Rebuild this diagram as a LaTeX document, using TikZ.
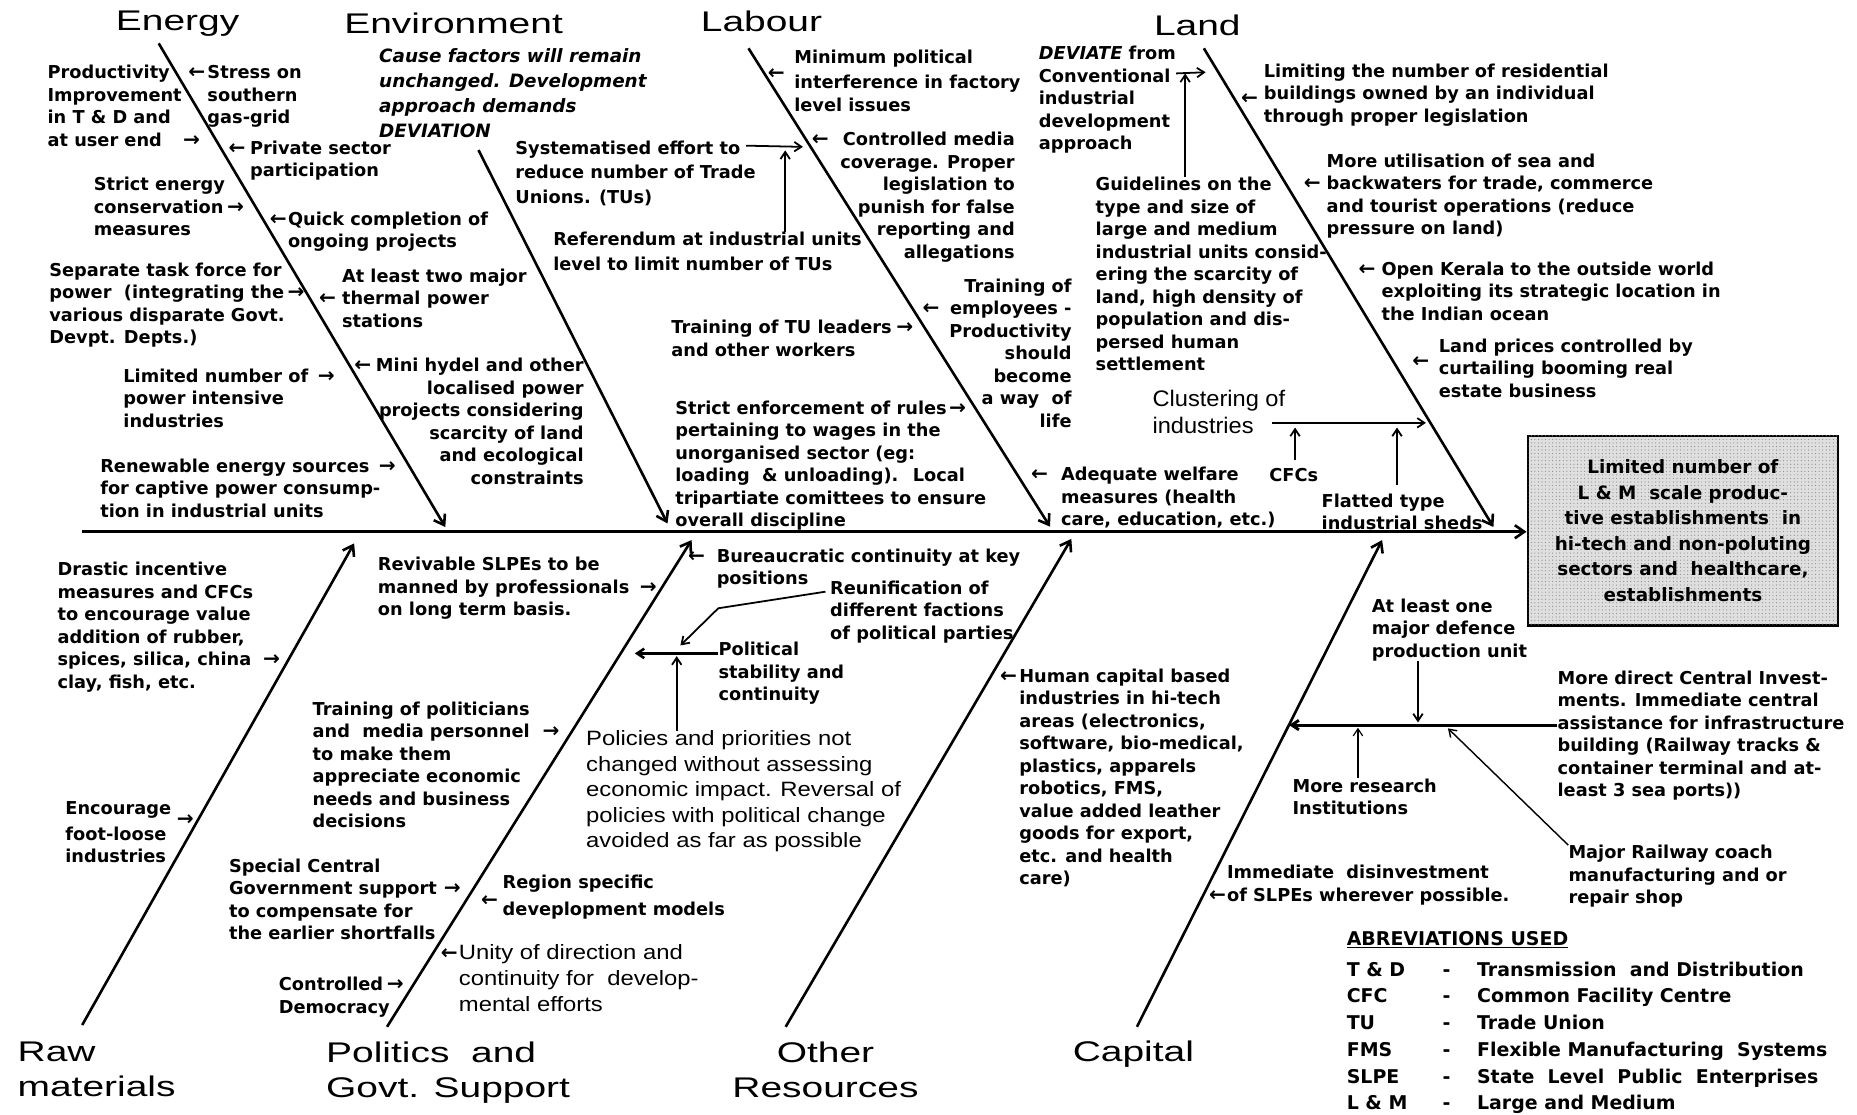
\documentclass[tikz,border=0pt]{standalone}
\usepackage{fontspec}
\setmainfont{DejaVu Sans}
\newfontfamily\headfam{Liberation Sans}[FakeStretch=1.37]
\newfontfamily\plainfam{Liberation Sans}[FakeStretch=1.15]
\newfontfamily\clusterfam{Liberation Sans}[FakeStretch=1.05]
\newfontfamily\arrowfam{DejaVu Sans}
\usetikzlibrary{positioning,arrows.meta,patterns}

% small pointer arrows set inside the texts
\newcommand\arrowglyph[1]{{\arrowfam\bfseries\fontsize{17}{17}\selectfont\symbol{#1}}}
\newcommand\ra[1][3pt]{\rlap{\hspace{#1}\arrowglyph{"2192}}}
\newcommand\rar[2][3pt]{\rlap{\hspace{#1}\raisebox{#2}{\arrowglyph{"2192}}}}
\newcommand\la[1][3pt]{\llap{\arrowglyph{"2190}\hspace{#1}}}
\newcommand\lar[2][3pt]{\llap{\raisebox{#2}{\arrowglyph{"2190}}\hspace{#1}}}

\begin{document}
\begin{tikzpicture}[x=1pt,y=-1pt,
  cause/.style={inner sep=0pt, anchor=north west, align=left,
    font=\fontsize{15}{19}\selectfont\bfseries},
  causer/.style={cause, anchor=north east, align=right},
  plain/.style={inner sep=0pt, anchor=north west, align=left,
    font=\plainfam\fontsize{17.5}{21.5}\selectfont},
  head/.style={inner sep=0pt, anchor=base, font=\headfam\fontsize{24}{29.6}\selectfont},
  bone/.style={line width=2.2pt, -{Straight Barb[length=8pt,width=11pt]}},
  link/.style={line width=1.5pt, -{Straight Barb[length=6pt,width=8pt]}}]

\fill[white] (0,0) rectangle (1568,941);
\useasboundingbox (0,0) rectangle (1568,941);

% effect and spine
\node[draw, line width=2pt, fill=gray!25, postaction={pattern=dots, pattern color=gray!90},
  minimum width=262pt, minimum height=160pt, inner sep=0pt, align=center,
  font=\fontsize{15.5}{21.5}\selectfont\bfseries] (effect) at (1421,448)
  {Limited number of\\L \& M \ scale produc-\\tive establishments \ in\\hi-tech and non-poluting\\sectors and \ healthcare,\\establishments};
\coordinate (tail) at (69,449);
\draw[bone] (tail) -- (tail -| effect.west);

% bones
\coordinate (energy0) at (134,36.6);    \coordinate (energy1) at (376,445);
\coordinate (environ0) at (404,126.7);  \coordinate (environ1) at (563.6,442);
\coordinate (labour0) at (632,40.8);    \coordinate (labour1) at (886.6,444.7);
\coordinate (land0) at (1016.5,40.8);   \coordinate (land1) at (1261,445);
\coordinate (raw0) at (69.4,865.5);     \coordinate (raw1) at (299,458.8);
\coordinate (politics0) at (326.8,867); \coordinate (politics1) at (584,456);
\coordinate (other0) at (663.4,867);    \coordinate (other1) at (904.6,455);
\coordinate (capital0) at (960,867);    \coordinate (capital1) at (1167,456);
\draw[bone] (energy0) -- (energy1);
\draw[bone] (environ0) -- (environ1);
\draw[bone] (labour0) -- (labour1);
\draw[bone] (land0) -- (land1);
\draw[bone] (raw0) -- (raw1);
\draw[bone] (politics0) -- (politics1);
\draw[bone] (other0) -- (other1);
\draw[bone] (capital0) -- (capital1);

% bone titles
\node[head] (energy) at (150,26) {Energy};
\node[head] (environment) at (383,28) {Environment};
\node[head] (labour) at (643,27) {Labour};
\node[head] (land) at (1011,29.6) {Land};
\node[head, anchor=north west, align=left] (rawmat) at (14.7,879.2) {Raw\\materials};
\node[head, anchor=north west, align=left] (govt) at (275.2,879.2) {Politics\ \ and\\Govt. Support};
\node[head, anchor=north, align=center] (resources) at (697,879.2) {Other\\Resources};
\node[head] (capital) at (957,896.4) {Capital};

% energy
\node[cause] (productivity) at (40,55) {Productivity\\Improvement\\in T \& D and\\at user end\ra[18pt]};
\node[cause] (stress) at (175,55) {\la[2pt]Stress on\\southern\\gas-grid};
\node[cause] (private) at (211,118.5) {\la[4pt]Private sector\\participation};
\node[cause] (conserve) at (79,149.5) {Strict energy\\conservation\ra\\measures};
\node[cause] (quick) at (243,178.5) {\la[1pt]Quick completion of\\ongoing projects};
\node[cause] (taskforce) at (41.5,221.5) {Separate task force for\\power \ (integrating the\ra[3pt]\\various disparate Govt.\\Devpt. Depts.)};
\node[cause] (thermal) at (288.6,226.8) {At least two major\\\la[5pt]thermal power\\stations};
\node[cause] (limited) at (104,311) {Limited number of\ra[8pt]\\power intensive\\industries};
\node[causer] (hydel) at (493,302.5) {\la[4pt]Mini hydel and other\\localised power\\projects considering\\scarcity of land\\and ecological\\constraints};
\node[cause] (renewable) at (84.5,387) {Renewable energy sources\ra[8pt]\\for captive power consump-\\tion in industrial units};

% environment
\node[cause, font=\fontsize{15.5}{21.2}\selectfont\bfseries\itshape] (deviation) at (320,40.8)
  {Cause factors will remain\\unchanged. Development\\approach demands\\DEVIATION};
\node[cause, font=\fontsize{15}{21}\selectfont\bfseries] (reduce) at (435,118.5)
  {Systematised effort to\\reduce number of Trade\\Unions. (TUs)};
\node[cause, font=\fontsize{15}{21}\selectfont\bfseries] (referendum) at (467,195.5)
  {Referendum at industrial units\\level to limit number of TUs};
\coordinate (tustart) at (630,123);
\coordinate (tuend) at (678,124);
\coordinate (tujoin) at (663,127);
\draw[link] (tustart) -- (tuend);
\draw[link] (referendum.north -| tujoin) -- (tujoin);

% labour
\node[cause] (interfere) at (670.5,42) {Minimum political\\\lar[8pt]{8pt}interference in factory\\level issues};
\node[causer] (media) at (857,111.5) {\la[12pt]Controlled media\\coverage. Proper\\legislation to\\punish for false\\reporting and\\allegations};
\node[causer] (employees) at (905,235) {Training of\\\la[9pt]employees -\\Productivity\\should\\become\\a way \ of\\life};
\node[cause] (tuleaders) at (566.7,270.3) {Training of TU leaders\ra[4pt]\\and other workers};
\node[cause] (wages) at (570,338) {Strict enforcement of rules\ra[2pt]\\pertaining to wages in the\\unorganised sector (eg:\\loading \ \& unloading). \ Local\\tripartiate comittees to ensure\\overall discipline};
\node[cause] (welfare) at (895.7,394.2) {\la[11pt]Adequate welfare\\measures (health\\care, education, etc.)};

% land
\node[cause] (deviate) at (877,39) {\textit{DEVIATE} from\\Conventional\\industrial\\development\\approach};
\node[cause] (guidelines) at (925,149.5) {Guidelines on the\\type and size of\\large and medium\\industrial units consid-\\ering the scarcity of\\land, high density of\\population and dis-\\persed human\\settlement};
\coordinate (landjoin) at (1018,61);
\coordinate (devjoin) at (1000.7,62);
\draw[link] (deviate.east |- devjoin) -- (landjoin);
\draw[link] (guidelines.north -| devjoin) -- (devjoin);
\node[cause] (residential) at (1067,53.6) {Limiting the number of residential\\\lar[5pt]{-4pt}buildings owned by an individual\\through proper legislation};
\node[cause] (seaways) at (1120,129.5) {More utilisation of sea and\\\la[5pt]backwaters for trade, commerce\\and tourist operations (reduce\\pressure on land)};
\node[cause] (kerala) at (1166.3,221) {\la[5pt]Open Kerala to the outside world\\exploiting its strategic location in\\the Indian ocean};
\node[cause] (landprice) at (1214.7,285.8) {Land prices controlled by\\\lar[8pt]{6pt}curtailing booming real\\estate business};
\node[inner sep=0pt, anchor=north west, align=left, font=\clusterfam\fontsize{19}{22.5}\selectfont]
  (cluster) at (973,329.5) {Clustering of\\industries};
\coordinate (clusterstart) at (1074,357);
\coordinate (clusterend) at (1204,357);
\draw[link] (clusterstart) -- (clusterend);
\node[cause] (cfcs) at (1071.6,395.5) {CFCs};
\node[cause] (flatted) at (1115.8,416.8) {Flatted type\\industrial sheds};
\coordinate (cfcfoot) at (1093.5,388);
\coordinate (cfcjoin) at (1093.5,361);
\coordinate (flatfoot) at (1179.6,409.6);
\coordinate (flatjoin) at (1179.6,361);
\draw[link] (cfcfoot) -- (cfcjoin);
\draw[link] (flatfoot) -- (flatjoin);

% raw materials
\node[cause] (rubber) at (48.4,474.5) {Drastic incentive\\measures and CFCs\\to encourage value\\addition of rubber,\\spices, silica, china\ra[10pt]\\clay, fish, etc.};
\node[cause] (footloose) at (55,677) {Encourage\rar[5pt]{-9pt}\\foot-loose\\industries};

% politics and govt. support
\node[cause] (revivable) at (318.9,470.2) {Revivable SLPEs to be\\manned by professionals\ra[9pt]\\on long term basis.};
\node[cause] (bureaucracy) at (605,463) {\la[10pt]Bureaucratic continuity at key\\positions};
\node[cause] (reunify) at (700.8,490) {Reunification of\\different factions\\of political parties};
\node[cause] (stability) at (606.5,542) {Political\\stability and\\continuity};
\node[plain] (policies) at (494.8,617) {Policies and priorities not\\changed without assessing\\economic impact. Reversal of\\policies with political change\\avoided as far as possible};
\coordinate (reunistart) at (697,499.6);
\coordinate (reunibend) at (606.5,513.6);
\coordinate (reunitip) at (574.5,545);
\coordinate (stabjoin) at (571.4,554);
\coordinate (stabtip) at (536,551.7);
\draw[link] (reunistart) -- (reunibend) -- (reunitip);
\draw[link, line width=2.2pt] (stability.west |- stabtip) -- (stabtip);
\draw[link] (policies.north -| stabjoin) -- (stabjoin);
\node[cause] (politicians) at (263.8,592.5) {Training of politicians\\and \ media personnel\ra[11pt]\\to make them\\appreciate economic\\needs and business\\decisions};
\node[cause] (shortfalls) at (193.2,725) {Special Central\\Government support\ra[6pt]\\to compensate for\\the earlier shortfalls};
\node[cause, font=\fontsize{15}{22.5}\selectfont\bfseries] (region) at (424.3,739) {Region specific\\\lar[4pt]{8pt}deveplopment models};
\node[plain, font=\plainfam\fontsize{17.5}{22}\selectfont] (unity) at (387.3,797.3) {\la[1pt]Unity of direction and\\continuity for \ develop-\\mental efforts};
\node[cause] (democracy) at (235.3,824.8) {Controlled\ra[3pt]\\Democracy};

% other resources
\node[cause] (humancap) at (860.5,564.5) {\la[2pt]Human capital based\\industries in hi-tech\\areas (electronics,\\software, bio-medical,\\plastics, apparels\\robotics, FMS,\\value added leather\\goods for export,\\etc. and health\\care)};

% capital
\node[cause] (defence) at (1158.2,505.3) {At least one\\major defence\\production unit};
\node[cause] (investment) at (1315,566) {More direct Central Invest-\\ments. Immediate central\\assistance for infrastructure\\building (Railway tracks \&\\container terminal and at-\\least 3 sea ports))};
\node[cause] (research) at (1091.2,657.3) {More research\\Institutions};
\node[cause] (railway) at (1324.2,713.6) {Major Railway coach\\manufacturing and or\\repair shop};
\node[cause] (disinvest) at (1035.9,730.5) {Immediate \ disinvestment\\\la[1pt]of SLPEs wherever possible.};
\coordinate (capjoin) at (1088.5,612.2);
\coordinate (defjoin) at (1197.3,610);
\coordinate (resjoin) at (1146.6,614.5);
\coordinate (railtip) at (1222.6,615);
\draw[link, line width=2.5pt] (investment.west |- capjoin) -- (capjoin);
\draw[link] (defence.south -| defjoin) -- (defjoin);
\draw[link, line width=1pt] (research.north -| resjoin) -- (resjoin);
\draw[link, line width=1.2pt] (railway.north west) -- (railtip);

% abbreviations
\node[cause, font=\fontsize{16}{22.6}\selectfont\bfseries] (abbrevhead) at (1137,786) {\underline{ABREVIATIONS USED}};
\node[cause, font=\fontsize{16}{22.6}\selectfont\bfseries] (abbrevlist) at (1137,808.2)
  {\begin{tabular}{@{}p{81pt}@{}p{29pt}@{}l@{}}
   T \& D & - & Transmission \ and Distribution\\
   CFC & - & Common Facility Centre\\
   TU & - & Trade Union\\
   FMS & - & Flexible Manufacturing \ Systems\\
   SLPE & - & State \ Level \ Public \ Enterprises\\
   L \& M & - & Large and Medium
   \end{tabular}};
\end{tikzpicture}
\end{document}
